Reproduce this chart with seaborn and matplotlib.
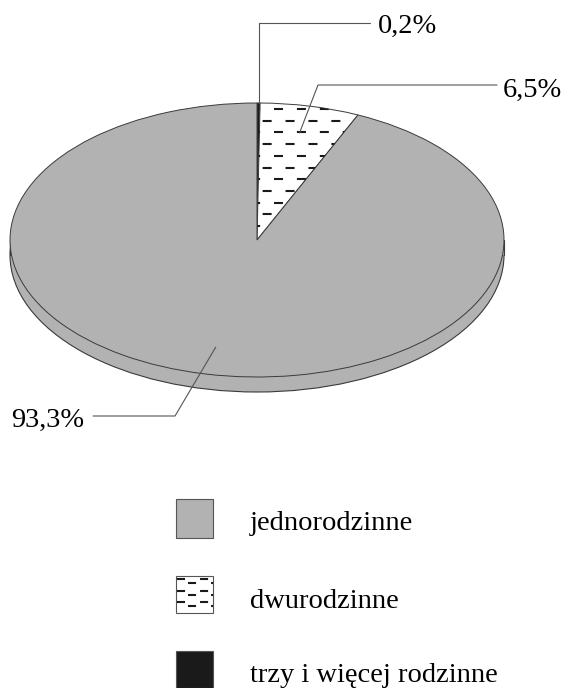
import numpy as np
import matplotlib
matplotlib.use("Agg")
import matplotlib.pyplot as plt
import seaborn as sns
from matplotlib.patches import Ellipse, Rectangle

sns.set_theme(style="white")
plt.rcParams['font.family'] = ['Liberation Serif', 'DejaVu Serif']
plt.rcParams['lines.scale_dashes'] = False

# ---- data ----
categories = ["jednorodzinne", "dwurodzinne", "trzy i więcej rodzinne"]
values = [93.3, 6.5, 0.2]
value_labels = ["93,3%", "6,5%", "0,2%"]

GRAY = "#b2b2b2"
BLACK = "#1a1a1a"
EDGE = "#3a3a3a"
fills = [GRAY, "white", BLACK]

W, H = 569, 688
fig = plt.figure(figsize=(W / 100, H / 100), dpi=100)

# ellipse geometry (pixels)
CX, CY, RX, RY = 257, 240, 247, 137
THICK = 15 / RY

def to_data(px, py):
    return (px - CX) / RX, (CY - py) / RY

ax = fig.add_axes([0, 0, 1, 1])
ax.set_axis_off()

# side of the 3D disc
ax.add_patch(Ellipse((0, -THICK), 2, 2, fc=GRAY, ec=EDGE, lw=0.8, zorder=1))
ax.add_patch(Rectangle((-1, -THICK), 2, THICK, fc=GRAY, ec="none", zorder=1.5))
for sx in (-1, 1):
    ax.plot([sx, sx], [0, -THICK], color=EDGE, lw=0.8, zorder=1.6)

# pie, clockwise from 12 o'clock: smallest first
order = [2, 1, 0]
wedges, _ = ax.pie([values[i] for i in order],
                   colors=[fills[i] for i in order],
                   startangle=90, counterclock=False, radius=1,
                   wedgeprops=dict(edgecolor=EDGE, linewidth=0.7))
for w in wedges:
    w.set_zorder(2)
ax.set_aspect("auto")
ax.set_xlim(-CX / RX, (W - CX) / RX)
ax.set_ylim((CY - H) / RY, CY / RY)

# dash hatching of 'dwurodzinne' wedge
hw = wedges[1]
rows = np.arange(1.0 - 6 / RY, -0.05, -11.7 / RY)
for k, yv in enumerate(rows):
    ln, = ax.plot([-1.1, 1.1], [yv, yv], color=BLACK, lw=1.5,
                  ls=(0 if k % 2 == 0 else 8.2, (6.5, 10.0)), zorder=3)
    ln.set_clip_path(hw)

# labels with leader lines
total = sum(values)
cum = 0.0
mid = {}
for i in order:
    mid[i] = 90 - (cum + values[i] / 2) / total * 360
    cum += values[i]

def pt(i, r):
    a = np.deg2rad(mid[i])
    return r * np.cos(a), r * np.sin(a)

lab_style = dict(fontsize=20.5, color="black", va="baseline")
LC = "#555555"
# 0,2%
x0, y0 = pt(2, 1.0)
ex, ey = x0, to_data(0, 23)[1]
hx = to_data(370, 0)[0]
ax.plot([x0, ex, hx], [y0, ey, ey], color=LC, lw=0.8, zorder=4)
ax.text(to_data(378, 0)[0], to_data(0, 33)[1], value_labels[2], ha="left", **lab_style)
# 6,5%
x0, y0 = pt(1, 0.8)
ex, ey = to_data(318, 85)
hx = to_data(497, 0)[0]
ax.plot([x0, ex, hx], [y0, ey, ey], color=LC, lw=0.8, zorder=4)
ax.text(to_data(503, 0)[0], to_data(0, 97)[1], value_labels[1], ha="left", **lab_style)
# 93,3%
x0, y0 = pt(0, 0.8)
ex, ey = to_data(175, 416)
hx = to_data(93, 0)[0]
ax.plot([x0, ex, hx], [y0, ey, ey], color=LC, lw=0.8, zorder=4)
ax.text(to_data(84, 0)[0], to_data(0, 427)[1], value_labels[0], ha="right", **lab_style)

# ---- legend (pixel coordinates overlay) ----
lg = fig.add_axes([0, 0, 1, 1])
lg.set_axis_off()
lg.set_xlim(0, W)
lg.set_ylim(H, 0)
boxes = [(176, 499, 37, 39), (176, 576, 37, 37), (176, 651, 37, 37)]
baselines = [530, 608, 682]
for i, ((bx, by, bw, bh), bl) in enumerate(zip(boxes, baselines)):
    r = Rectangle((bx, by), bw, bh, fc=fills[i], ec="#555555", lw=0.8)
    lg.add_patch(r)
    if i == 1:
        for yy in (by + 3, by + 15, by + 26):
            for xs, yo in ((bx + 1, 0), (bx + 12, 4)):
                ln, = lg.plot([xs, bx + bw + 3], [yy + yo, yy + yo], color=BLACK,
                              lw=1.5, ls=(0, (5.8, 10.8)))
                ln.set_clip_path(r)
    lg.text(250, bl, categories[i], fontsize=20.5, color="black", va="baseline", ha="left")

fig.savefig("out.png", dpi=100, facecolor="white")
